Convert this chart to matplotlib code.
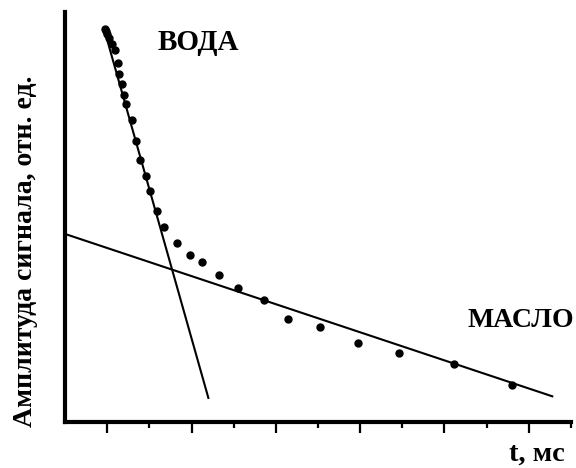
import matplotlib
matplotlib.use("Agg")
import matplotlib.pyplot as plt
import numpy as np

# measured points (t, ms ; amplitude, arb. units)
t_pts = [0.97, 0.99, 1.00, 1.02, 1.06, 1.09, 1.13, 1.14, 1.18, 1.20, 1.22,
         1.29, 1.34, 1.39, 1.46, 1.51, 1.59, 1.67, 1.83, 1.98, 2.13, 2.33,
         2.55, 2.86, 3.15, 3.52, 3.98, 4.46, 5.12, 5.80]
amp_pts = [9.59, 9.54, 9.46, 9.37, 9.22, 9.07, 8.76, 8.49, 8.24, 7.98, 7.76,
           7.37, 6.85, 6.39, 6.00, 5.63, 5.15, 4.76, 4.37, 4.07, 3.90, 3.59,
           3.27, 2.98, 2.51, 2.32, 1.93, 1.68, 1.42, 0.90]

# fitted lines: water (fast) and oil (slow)
water_t = [0.96, 2.20]
water_amp = [9.61, 0.59]
oil_t = [0.50, 6.28]
oil_amp = [4.59, 0.63]

plt.rcParams["font.family"] = ["Liberation Serif", "DejaVu Serif"]

fig = plt.figure(figsize=(5.76, 4.68), dpi=100)
ax = fig.add_axes([0.113, 0.098, 0.878, 0.876])

ax.plot(water_t, water_amp, color="black", lw=1.5)
ax.plot(oil_t, oil_amp, color="black", lw=1.5)
ax.plot(t_pts, amp_pts, "o", color="black", markersize=5)

ax.set_xlim(0.5, 6.5)
ax.set_ylim(0, 10)
ax.set_xticks(np.arange(1, 7))
ax.set_xticks(np.arange(1.5, 7, 1.0), minor=True)
ax.set_xticklabels([])
ax.set_yticks([])
ax.tick_params(axis="x", which="major", direction="out", length=8, width=1.6)
ax.tick_params(axis="x", which="minor", direction="out", length=4.5, width=1.6)
for side in ("top", "right"):
    ax.spines[side].set_visible(False)
for side in ("left", "bottom"):
    ax.spines[side].set_linewidth(3)

ax.text(1.60, 9.07, "ВОДА", fontsize=21, fontweight="bold")
ax.text(5.27, 2.32, "МАСЛО", fontsize=20, fontweight="bold")
ax.text(5.77, -0.93, "t, мс", fontsize=20.5, fontweight="bold", clip_on=False)
fig.text(0.045, 0.463, "Амплитуда сигнала, отн. ед.", fontsize=20,
         fontweight="bold", rotation=90, ha="center", va="center")

fig.savefig("out.png", dpi=100)
